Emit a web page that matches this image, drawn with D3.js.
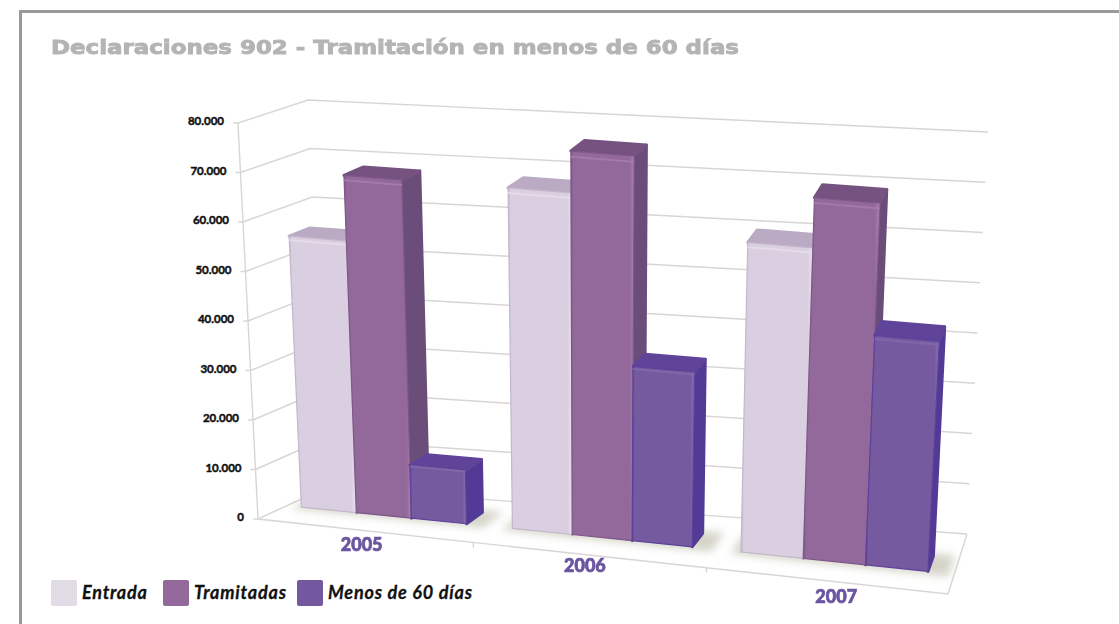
<!DOCTYPE html>
<html><head><meta charset="utf-8">
<script src="https://cdn.jsdelivr.net/npm/d3@7"></script>
<style>html,body{margin:0;padding:0;background:#fff}svg{display:block}</style>
</head><body><svg id="c" width="1119" height="624"></svg>
<script>
const titleText = "Declaraciones 902 - Tramitación en menos de 60 días";
const categories = ["2005","2006","2007"];
const seriesNames = ["Entrada","Tramitadas","Menos de 60 días"];
const entrada = [55200,68600,61600];
const tramitadas = [68500,77000,71600];
const menos60 = [10700,34900,45400];
const yTicks = [0,10000,20000,30000,40000,50000,60000,70000,80000];
const yTickLabels = ["0","10.000","20.000","30.000","40.000","50.000","60.000","70.000","80.000"];

const seriesValues = [entrada,tramitadas,menos60];
const faceColors = [
  {front:"#dacfe0",edge:"#c4b6cc",light:"#e4dce8",top:"#bbaac3",side:"#a893b0",legend:"#e0dbe5"},
  {front:"#93689b",edge:"#7e5789",light:"#a17aa9",top:"#75527f",side:"#6b4d79",legend:"#93689b"},
  {front:"#755a9f",edge:"#5d429b",light:"#8068a8",top:"#5f449a",side:"#533a96",legend:"#7358a0"}
];

const corners = {
  flb:[258,519], frb:[948,594], blb:[325,488], brb:[967,534],
  flt:[238,123], frt:[970,186], blt:[308,100], brt:[988,132]
};
const lerp=(a,b,t)=>a+(b-a)*t;
const lerpP=(p,q,t)=>[lerp(p[0],q[0],t),lerp(p[1],q[1],t)];
const hScale=d3.scaleLinear().domain([0,80000]).range([0,1]);
const uWarp=d3.scaleLinear().domain([0,1/3,2/3,1]).range([0,.312,.65,1]);
const barShift=d3.scaleLinear().domain([0,1]).range([-.011,-.002]);
const v0Scale=d3.scaleLinear().domain([0,1]).range([.43,.33]);
const depthScale=d3.scaleLinear().domain([0,1]).range([.31,.26]);
function projectU(U,v,val){
  const h=hScale(val);
  const bot=lerpP(lerpP(corners.flb,corners.frb,U),lerpP(corners.blb,corners.brb,U),v);
  const top=lerpP(lerpP(corners.flt,corners.frt,U),lerpP(corners.blt,corners.brt,U),v);
  return lerpP(bot,top,h);
}
const project=(u,v,val)=>projectU(uWarp(u),v,val);
// a point on a bar: z = 0 front of the bar, 1 back of the bar
const barPt=(u,z,val)=>{
  const v=v0Scale(u)+z*depthScale(u);
  return projectU(uWarp(u)+barShift(u),v,val);
};
const groupScale=d3.scaleBand().domain(categories).range([0,1]);
const barScale=d3.scaleBand().domain(seriesNames).range([0,groupScale.bandwidth()]).paddingOuter(0.4).paddingInner(0);

const svg=d3.select("#c");
const defs=svg.append("defs");
const blur=(id,s)=>defs.append("filter").attr("id",id).attr("x","-20%").attr("y","-20%").attr("width","140%").attr("height","140%")
  .append("feGaussianBlur").attr("stdDeviation",s);
blur("sh",4);blur("soft",.45);blur("txt",.3);
faceColors.forEach((c,i)=>{
  const g=defs.append("linearGradient").attr("id","g"+i);
  [[0,c.edge],[.04,c.front],[.93,c.front],[.97,c.light],[1,c.light]].forEach(s=>g.append("stop").attr("offset",s[0]).attr("stop-color",s[1]));
});

svg.append("path").attr("d","M20.5,624V11.5H1119").attr("fill","none").attr("stroke","#9a9a9a").attr("stroke-width",3);

svg.append("text").text(titleText).attr("x",51).attr("y",54)
  .attr("textLength",688).attr("lengthAdjust","spacingAndGlyphs")
  .attr("font-family","DejaVu Sans").attr("font-weight","bold").attr("font-size",20)
  .attr("fill","#b4b4b4").attr("stroke","#b4b4b4").attr("stroke-width",.9).attr("filter","url(#txt)");

const line=d3.line();
const poly=(g,pts)=>g.append("path").attr("d",line(pts)+"Z");
const grid=svg.append("g").attr("fill","none").attr("stroke","#d9d5d5").attr("stroke-width",1.4).attr("filter","url(#soft)");

yTicks.forEach(t=>{
  grid.append("path").attr("d",line([project(0,0,t),project(0,1,t),project(1,1,t)]));
  const a=project(0,0,t);
  grid.append("path").attr("d",line([a,[a[0]-5,a[1]]]));
});
grid.append("path").attr("d",line([project(0,0,80000),project(0,0,0),project(1,0,0),project(1,1,0)]));
[1/3,2/3].forEach(u=>{const a=project(u,0,0);grid.append("path").attr("d",line([a,[a[0],a[1]+5]]));});

const yLab=svg.append("g").attr("font-family","Lato").attr("font-weight","bold").attr("font-size",11.5)
  .attr("fill","#111").attr("stroke","#111").attr("stroke-width",.45).attr("text-anchor","end");
yTicks.forEach((t,i)=>{
  const a=project(0,0,t);
  yLab.append("text").text(yTickLabels[i]).attr("x",a[0]-14).attr("y",a[1]+2);
});

categories.forEach((cat,ci)=>{
  const gx=groupScale(cat);
  const g=svg.append("g");
  const uA=gx+barScale(seriesNames[0]), uB=gx+barScale(seriesNames[2])+barScale.bandwidth();
  poly(g,[barPt(uA-.012,-.2,0),barPt(uB+.03,-.2,0),barPt(uB+.03,1.17,0),barPt(uA-.012,1.17,0)])
    .attr("fill","#bdbdab").attr("opacity",.65).attr("filter","url(#sh)");
  seriesNames.forEach((s,si)=>{
    const val=seriesValues[si][ci], c=faceColors[si];
    const a=gx+barScale(s), b=a+barScale.bandwidth();
    const bar=g.append("g").attr("stroke-linejoin","round").attr("stroke-width",3);
    poly(bar,[barPt(b,0,0),barPt(b,1,0),barPt(b,1,val),barPt(b,0,val)]).attr("fill",c.side).attr("stroke",c.side);
    poly(bar,[barPt(a,0,val),barPt(b,0,val),barPt(b,1,val),barPt(a,1,val)]).attr("fill",c.top).attr("stroke",c.top);
    poly(bar,[barPt(a,0,0),barPt(b,0,0),barPt(b,0,val),barPt(a,0,val)]).attr("fill","url(#g"+si+")").attr("stroke",c.edge).attr("stroke-width",1.2);
    bar.append("path").attr("d",line([barPt(a,0,val*.985),barPt(b,0,val*.985)])).attr("fill","none").attr("stroke",c.light).attr("stroke-width",2);
  });
});

const catOffsets=[[-4,14],[-5,11],[9,16]];
categories.forEach((cat,i)=>{
  const p=project(groupScale(cat)+groupScale.bandwidth()/2,0,0);
  svg.append("text").text(cat).attr("x",p[0]+catOffsets[i][0]).attr("y",p[1]+catOffsets[i][1]+6)
    .attr("text-anchor","middle").attr("font-family","Lato").attr("font-weight","900").attr("font-size",18)
    .attr("fill","#6a55a0").attr("stroke","#6a55a0").attr("stroke-width",.7).attr("filter","url(#txt)");
});

const legendBoxes=[51,163,297], legendText=[82,194,328];
seriesNames.forEach((s,i)=>{
  svg.append("rect").attr("x",legendBoxes[i]).attr("y",580).attr("width",26).attr("height",26).attr("rx",2)
    .attr("fill",faceColors[i].legend);
  svg.append("text").text(s).attr("x",legendText[i]).attr("y",599)
    .attr("font-family","Lato").attr("font-style","italic").attr("font-weight","bold").attr("font-size",18)
    .attr("letter-spacing",.8).attr("fill","#111").attr("stroke","#111").attr("stroke-width",.3);
});
</script></body></html>
